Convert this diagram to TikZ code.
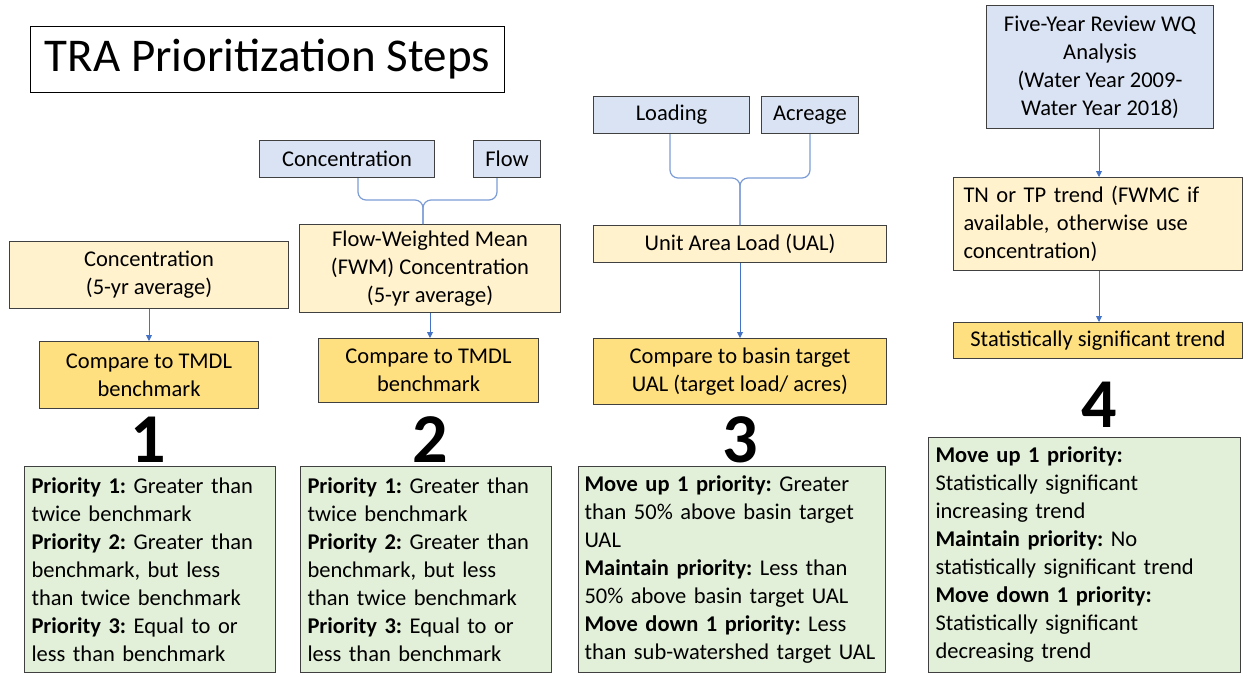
\documentclass[tikz,border=0pt]{standalone}
\usepackage{fontspec}
\setmainfont{Carlito}
\usetikzlibrary{arrows.meta}
\frenchspacing
\definecolor{bluebox}{HTML}{DAE3F3}
\definecolor{lightyel}{HTML}{FFF2CC}
\definecolor{darkyel}{HTML}{FFE080}
\definecolor{greenbox}{HTML}{E2F0D9}
\definecolor{edgec}{HTML}{404040}
\definecolor{arrowc}{HTML}{4472C4}
\tikzset{
  box/.style={draw=edgec, line width=1pt, inner sep=0pt, anchor=north west, align=center, font=\fontsize{22.5}{28}\selectfont},
  bluen/.style={box, fill=bluebox},
  yel/.style={box, fill=lightyel},
  dyel/.style={box, fill=darkyel},
  green/.style={box, fill=greenbox, align=left, inner xsep=7pt},
  num/.style={font=\fontsize{70}{70}\selectfont\bfseries, inner sep=0pt},
  arr/.style={draw=arrowc, line width=0.9pt, -{Triangle[length=6pt,width=6pt]}},
  brace/.style={draw=arrowc!70, line width=1.2pt, rounded corners=8pt},
}
\begin{document}
\begin{tikzpicture}[x=1pt,y=-1pt]
\useasboundingbox (0,0) rectangle (1243,675);
% title
\node[box, draw=black, fill=white, minimum width=474pt, minimum height=66pt, font=\fontsize{47}{50}\selectfont] (title) at (30,26) {TRA Prioritization Steps};

% column 1
\node[yel, minimum width=279pt, minimum height=67pt] (c1a) at (9,241) {Concentration\\(5-yr average)};
\node[dyel, minimum width=219pt, minimum height=67pt] (c1b) at (39,341) {Compare to TMDL\\benchmark};
\draw[arr] (c1a.south) -- (c1b.north);
\node[num] (n1) at (148,440) {1};
\node[green, text width=237pt, minimum height=206pt] (g1) at (24,466) {\textbf{Priority 1:} Greater than\\twice benchmark\\\textbf{Priority 2:} Greater than\\benchmark, but less\\than twice benchmark\\\textbf{Priority 3:} Equal to or\\less than benchmark};

% column 2
\node[bluen, minimum width=175pt, minimum height=37pt] (c2c) at (259,140) {Concentration};
\node[bluen, minimum width=67pt, minimum height=37pt] (c2f) at (473,140) {Flow};
\node[yel, minimum width=261pt, minimum height=88pt] (c2a) at (299,224) {Flow-Weighted Mean\\(FWM) Concentration\\(5-yr average)};
\node[dyel, minimum width=220pt, minimum height=64pt] (c2b) at (318,338) {Compare to TMDL\\benchmark};
\coordinate (b2) at (423,200);
\draw[brace] (c2c.south -| 358,0) |- (b2) -- (c2a.north -| b2);
\draw[brace] (c2f.south -| 497,0) |- (b2) -- (c2a.north -| b2);
\draw[arr] (c2a.south -| 430,0) -- (c2b.north -| 430,0);
\node[num] (n2) at (430,440) {2};
\node[green, text width=237pt, minimum height=206pt] (g2) at (300,466) {\textbf{Priority 1:} Greater than\\twice benchmark\\\textbf{Priority 2:} Greater than\\benchmark, but less\\than twice benchmark\\\textbf{Priority 3:} Equal to or\\less than benchmark};

% column 3
\node[bluen, minimum width=156pt, minimum height=37pt] (c3l) at (593,96) {Loading};
\node[bluen, minimum width=97pt, minimum height=37pt] (c3r) at (761,96) {Acreage};
\node[yel, minimum width=293pt, minimum height=37pt] (c3a) at (593,225) {Unit Area Load (UAL)};
\node[dyel, minimum width=293pt, minimum height=66pt] (c3b) at (593,338) {Compare to basin target\\UAL (target load/ acres)};
\coordinate (b3) at (740,178);
\draw[brace] (c3l.south -| 670,0) |- (b3) -- (c3a.north -| b3);
\draw[brace] (c3r.south -| 810,0) |- (b3) -- (c3a.north -| b3);
\draw[arr] (c3a.south -| 740,0) -- (c3b.north -| 740,0);
\node[num] (n3) at (740,440) {3};
\node[green, inner xsep=6pt, text width=295pt, minimum height=206pt] (g3) at (578,466) {\textbf{Move up 1 priority:} Greater\\than 50\% above basin target\\UAL\\\textbf{Maintain priority:} Less than\\50\% above basin target UAL\\\textbf{Move down 1 priority:} Less\\than sub-watershed target UAL};

% column 4
\node[bluen, minimum width=227pt, minimum height=123pt] (c4t) at (986,5) {Five-Year Review WQ\\Analysis\\(Water Year 2009-\\Water Year 2018)};
\node[yel, align=left, inner xsep=10pt, text width=269pt, minimum height=93pt] (c4a) at (953,177) {TN or TP trend (FWMC if\\available, otherwise use\\concentration)};
\node[dyel, minimum width=289pt, minimum height=36pt] (c4b) at (953,322) {Statistically significant trend};
\draw[arr] (c4t.south -| 1099,0) -- (c4a.north -| 1099,0);
\draw[arr] (c4a.south -| 1099,0) -- (c4b.north -| 1099,0);
\node[num] (n4) at (1099,405) {4};
\node[green, text width=298pt, minimum height=235pt] (g4) at (928,437) {\textbf{Move up 1 priority:}\\Statistically significant\\increasing trend\\\textbf{Maintain priority:} No\\statistically significant trend\\\textbf{Move down 1 priority:}\\Statistically significant\\decreasing trend};
\end{tikzpicture}
\end{document}
